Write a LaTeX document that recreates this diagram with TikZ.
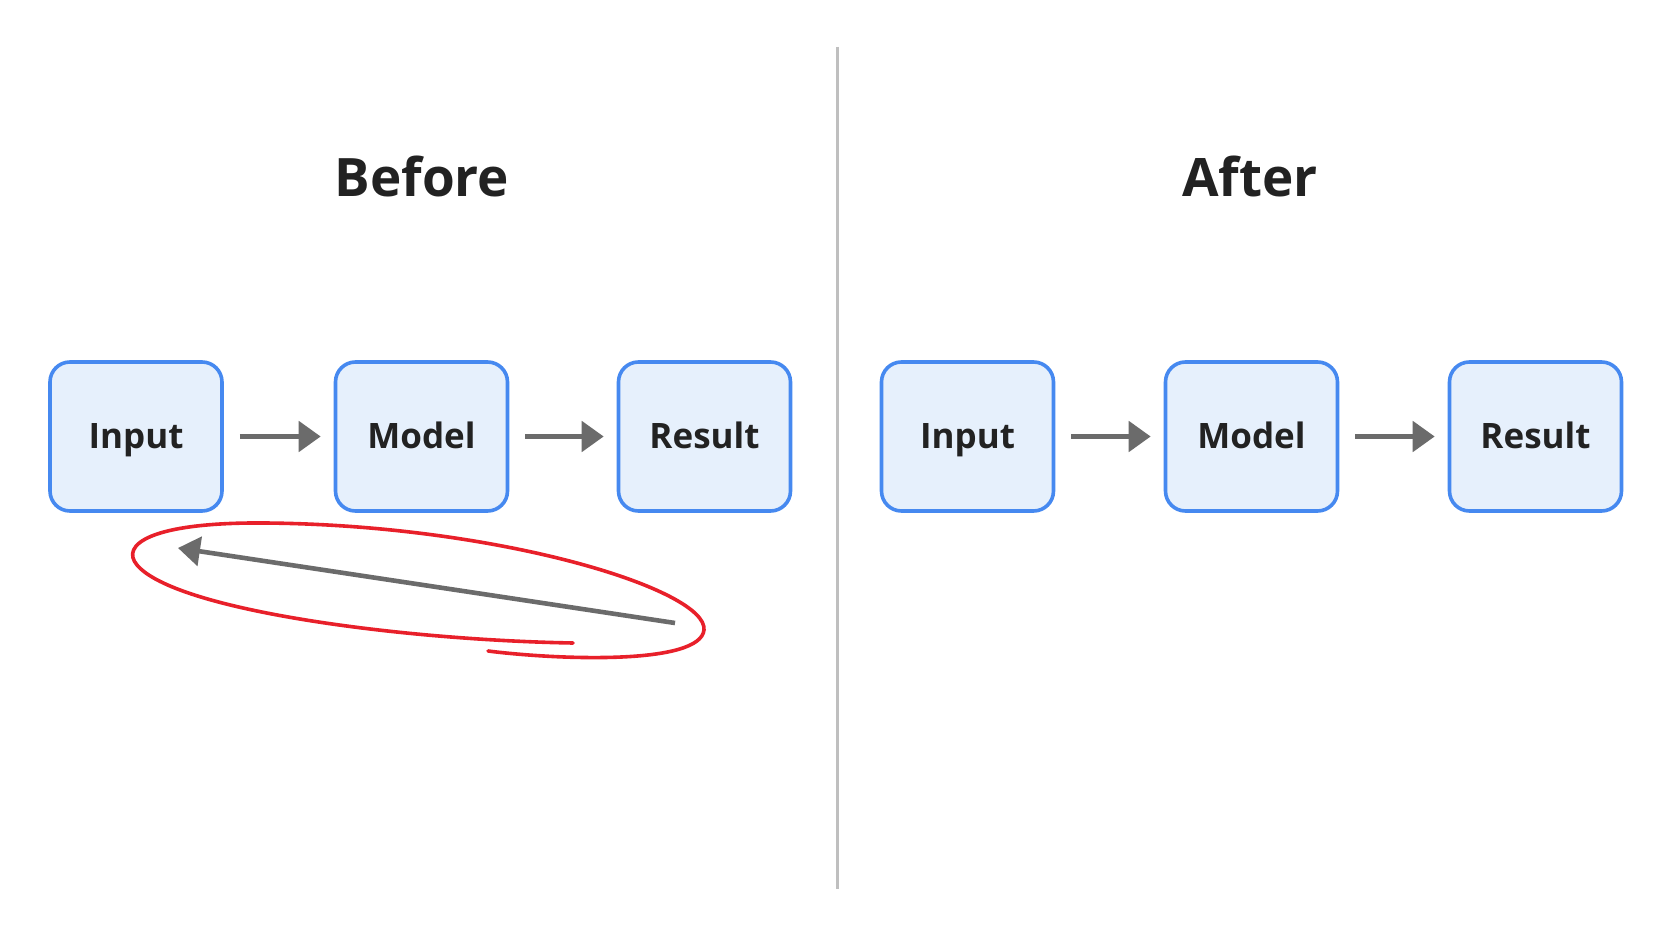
\documentclass[tikz,border=0pt]{standalone}
\usepackage{fontspec}
\setmainfont{Open Sans}
\usetikzlibrary{arrows.meta}
\definecolor{boxblue}{HTML}{4689F0}
\definecolor{boxfill}{HTML}{E6F0FC}
\definecolor{arrgray}{HTML}{6B6B6B}
\definecolor{penred}{HTML}{E8202A}
\definecolor{inkdark}{HTML}{222222}
\begin{document}
\begin{tikzpicture}[x=0.5pt,y=-0.5pt,line cap=round,line join=round,
  stage/.style={draw=boxblue,fill=boxfill,line width=1.8pt,rounded corners=10pt,
    minimum width=86pt,minimum height=74.5pt,font=\bfseries\fontsize{17.5}{20}\selectfont,
    text=inkdark,text height=12.5pt,text depth=0pt},
  flow/.style={draw=arrgray,line width=2.5pt,line cap=butt,-{Triangle[length=11pt,width=15pt]},
    shorten <=8pt,shorten >=6.5pt},
  title/.style={anchor=base,font=\bfseries\fontsize{26.5}{30}\selectfont,text=inkdark}]
  % Before / After comparison: the loop back from Result to Input is circled in red.
  \useasboundingbox[fill=white] (0,0) rectangle (1672,941);
  \draw[color=black!25,line width=1.5pt,line cap=butt] (837,47) -- (837,889);

  \node[title] (tb) at (422,197) {Before};
  \node[title] (ta) at (1250,197) {After};

  \node[stage] (in1) at (136,436.5) {Input};
  \node[stage] (mod1) at (421.5,436.5) {Model};
  \node[stage] (res1) at (704.5,436.5) {Result};
  \draw[flow] (in1) -- (mod1);
  \draw[flow] (mod1) -- (res1);

  \coordinate (fbS) at (675,623);
  \coordinate (fbE) at (178,548);
  \draw[draw=arrgray,line width=2.3pt,line cap=butt,-{Triangle[length=11pt,width=14.5pt]}] (fbS) -- (fbE);
  \draw[penred,line width=1.8pt] (488,651) .. controls (560,660) and (700,665) .. (704,630)
    .. controls (708,590) and (500,525) .. (265,523)
    .. controls (150,522) and (120,545) .. (137,565)
    .. controls (175,610) and (400,640) .. (573,643);

  \node[stage] (in2) at (967.5,436.5) {Input};
  \node[stage] (mod2) at (1251.5,436.5) {Model};
  \node[stage] (res2) at (1535.5,436.5) {Result};
  \draw[flow] (in2) -- (mod2);
  \draw[flow] (mod2) -- (res2);
\end{tikzpicture}
\end{document}
